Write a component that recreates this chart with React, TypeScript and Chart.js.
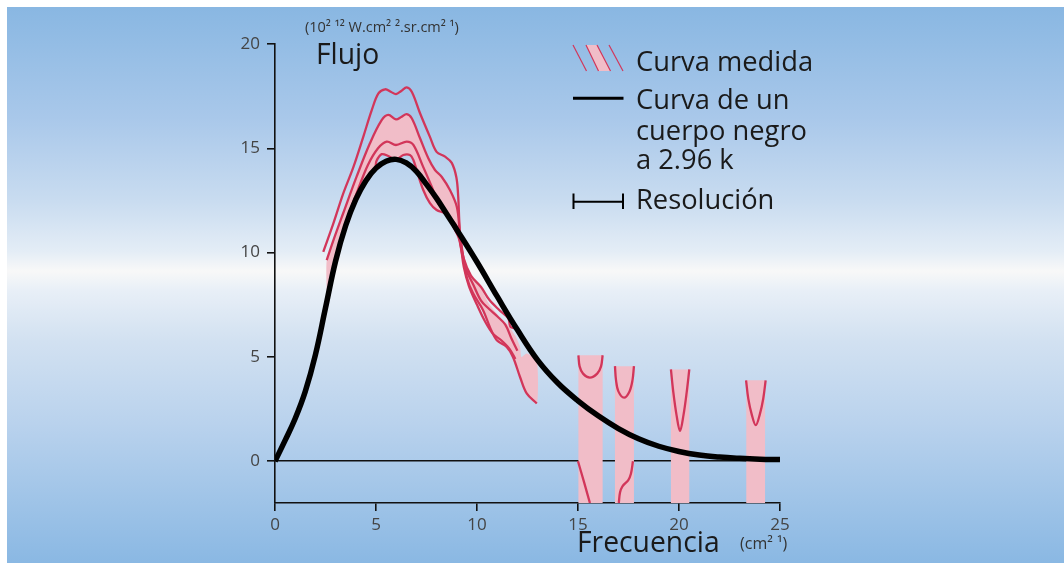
import React, { useEffect, useRef } from "react";
import { Chart, registerables } from "chart.js";

Chart.register(...registerables);

// ---------- data ----------
const xTicks = [0, 5, 10, 15, 20, 25];
const yTicks = [0, 5, 10, 15, 20];
const xRange = [0, 25];
const yRange = [-2, 20];

// black body curve (2.96 K)
const blackBody: number[][] = [
  [0, 0], [0.5, 1.0], [1, 2.05], [1.5, 3.35], [2, 5.1], [2.5, 7.35], [3, 9.6], [3.5, 11.3],
  [4, 12.55], [4.5, 13.45], [5, 14.05], [5.5, 14.38], [6, 14.47], [6.5, 14.3], [7, 13.9],
  [7.5, 13.27], [8, 12.6], [8.5, 11.85], [9, 11.1], [10, 9.55], [11, 7.9], [12, 6.3],
  [13, 4.85], [14, 3.75], [15, 2.9], [16, 2.18], [17, 1.57], [18, 1.08], [19, 0.72],
  [20, 0.47], [21, 0.3], [22, 0.2], [23, 0.14], [24, 0.1], [25, 0.08],
];

// measured curves (outlines)
const measuredOuter: number[][] = [
  [2.39, 10.04], [2.89, 11.4], [3.38, 12.84], [3.88, 14.1], [4.37, 15.55], [4.79, 16.83],
  [5.12, 17.63], [5.45, 17.83], [5.75, 17.7], [5.99, 17.6], [6.25, 17.75], [6.52, 17.92],
  [6.77, 17.71], [7.18, 16.68], [7.67, 15.55], [8.0, 14.83], [8.42, 14.6], [8.75, 14.3],
  [8.98, 13.6], [9.07, 12.68], [9.12, 11.56], [9.18, 10.6], [9.35, 9.7], [9.7, 8.9],
  [10.2, 8.35], [10.6, 7.75], [11.1, 7.25], [11.55, 6.85], [11.65, 6.45], [11.85, 6.38],
];
const measuredUpper: number[][] = [
  [2.56, 9.64], [2.95, 10.75], [3.38, 11.9], [4.04, 13.64], [4.7, 15.24], [5.28, 16.35],
  [5.61, 16.6], [5.99, 16.39], [6.25, 16.5], [6.52, 16.64], [6.77, 16.44], [7.18, 15.48],
  [7.59, 14.52], [7.92, 13.96], [8.25, 13.64], [8.66, 13.0], [9.0, 12.2], [9.15, 11.0],
  [9.3, 9.9], [9.5, 8.8], [9.8, 8.06], [10.3, 7.24], [10.64, 6.43], [10.98, 5.8],
  [11.47, 5.48], [11.78, 5.0], [12.13, 4.04], [12.46, 3.25], [12.96, 2.77],
];
const measuredMid: number[][] = [
  [3.75, 12.1], [4.1, 13.0], [4.6, 14.2], [5.1, 15.0], [5.53, 15.32], [5.99, 15.16],
  [6.52, 15.32], [6.85, 15.16], [7.34, 14.1], [7.76, 13.16], [8.09, 12.36], [8.5, 11.88],
  [8.83, 11.24], [9.1, 10.7], [9.25, 10.0], [9.45, 9.2], [9.8, 8.5], [10.2, 7.7],
  [10.6, 7.3], [11.0, 6.95], [11.4, 6.55], [11.7, 5.9], [12.0, 5.3],
];
const measuredLower: number[][] = [
  [4.98, 14.1], [5.03, 14.4], [5.28, 14.72], [5.61, 14.63], [5.99, 14.45], [6.35, 14.68],
  [6.68, 14.68], [6.85, 14.44], [7.01, 13.96], [7.34, 13.0], [7.67, 12.37], [8.0, 12.04],
  [8.42, 11.88], [8.75, 11.56], [9.0, 11.24], [9.2, 10.3], [9.35, 9.3], [9.6, 8.4],
  [10.0, 7.5], [10.4, 6.7], [10.8, 6.1], [11.2, 5.8], [11.6, 5.4], [11.9, 4.9],
];

// shaded (uncertainty) region of the measured curve, as a closed outline
const measuredBand: number[][] = [
  [2.56, 8.1], [2.56, 9.64], [2.95, 10.75], [3.38, 11.9], [4.04, 13.64], [4.7, 15.24],
  [5.28, 16.35], [5.61, 16.6], [5.99, 16.39], [6.25, 16.5], [6.52, 16.64], [6.77, 16.44],
  [7.18, 15.48], [7.59, 14.52], [7.92, 13.96], [8.25, 13.64], [8.66, 13.0], [9.0, 12.2],
  [9.15, 11.0], [9.3, 10.2], [9.6, 9.0], [10.15, 8.36], [10.56, 7.6], [11.14, 6.9],
  [11.55, 6.5], [11.9, 6.0], [12.13, 5.48], [12.2, 5.0], [12.46, 5.17], [12.96, 4.85],
  [12.97, 2.77], [12.46, 3.25], [12.13, 4.04], [11.78, 5.0], [11.47, 5.48], [10.98, 5.8],
  [10.64, 6.43], [10.3, 7.24], [9.8, 8.06], [9.5, 8.8], [9.3, 9.9], [9.2, 10.3],
  [9.0, 11.24], [8.75, 11.56], [8.42, 11.88], [8.0, 12.04], [7.67, 12.37], [7.34, 13.0],
  [7.01, 13.96], [6.85, 14.44], [6.68, 14.68], [6.35, 14.68], [5.99, 14.45], [5.61, 14.63],
  [5.28, 14.72], [5.03, 14.4], [4.98, 14.05], [4.5, 13.45], [4.0, 12.55], [3.5, 11.3],
  [3.0, 9.6], [2.56, 7.9],
];

// high-frequency measurements: shaded columns [x from, x to, top]
const highBands: number[][] = [
  [15.02, 16.22, 5.08],
  [16.83, 17.77, 4.56],
  [19.6, 20.51, 4.4],
  [23.33, 24.26, 3.88],
];
const highCurve1: number[][] = [
  [15.02, 5.08], [15.08, 4.55], [15.25, 4.2], [15.59, 4.01], [15.95, 4.2], [16.14, 4.55], [16.22, 5.08],
];
const highCurve2: number[][] = [
  [16.83, 4.56], [16.88, 3.9], [17.0, 3.35], [17.28, 3.05], [17.55, 3.35], [17.7, 3.9], [17.77, 4.56],
];
const highCurve3: number[][] = [
  [19.6, 4.4], [19.72, 3.3], [19.88, 2.2], [20.05, 1.45], [20.22, 2.2], [20.38, 3.3], [20.51, 4.4],
];
const highCurve4: number[][] = [
  [23.32, 3.88], [23.43, 3.0], [23.6, 2.25], [23.8, 1.73], [24.0, 2.25], [24.17, 3.0], [24.29, 3.88],
];
const lowCurve1: number[][] = [[15.0, 0], [15.3, -1.0], [15.59, -2.0]];
const lowCurve2: number[][] = [
  [17.72, 0], [17.62, -0.6], [17.49, -0.9], [17.2, -1.2], [17.08, -1.5], [17.02, -2.0],
];

// ---------- styling ----------
const RED = "#d2365a";
const PINK = "#f1bdc8";
const FONT = "'Open Sans', 'Noto Sans', sans-serif";
const TEXT = "#1a1a1a";

const W = 1057;
const H = 556;

const toPts = (a: number[][]) => a.map(([x, y]) => ({ x, y }));

const legendPlugin = {
  id: "legendSymbols",
  afterDraw(chart: any) {
    const ctx = chart.ctx;
    ctx.save();
    // hatched symbol (measured curve)
    ctx.strokeStyle = RED;
    ctx.lineWidth = 1.2;
    ctx.beginPath();
    ctx.moveTo(566, 38);
    ctx.lineTo(579.5, 64);
    ctx.stroke();
    ctx.beginPath();
    ctx.moveTo(602, 38);
    ctx.lineTo(616, 64);
    ctx.stroke();
    ctx.fillStyle = PINK;
    ctx.beginPath();
    ctx.moveTo(579, 38);
    ctx.lineTo(590, 38);
    ctx.lineTo(603.5, 64);
    ctx.lineTo(591.5, 64);
    ctx.closePath();
    ctx.fill();
    ctx.beginPath();
    ctx.moveTo(579, 38);
    ctx.lineTo(591.5, 64);
    ctx.moveTo(590, 38);
    ctx.lineTo(603.5, 64);
    ctx.stroke();
    // black body
    ctx.strokeStyle = "#000";
    ctx.lineWidth = 3;
    ctx.beginPath();
    ctx.moveTo(566, 91.3);
    ctx.lineTo(616.5, 91.3);
    ctx.stroke();
    // resolution
    ctx.lineWidth = 2;
    ctx.beginPath();
    ctx.moveTo(566, 194.7);
    ctx.lineTo(616.5, 194.7);
    ctx.moveTo(566.5, 186.5);
    ctx.lineTo(566.5, 202);
    ctx.moveTo(616, 186.5);
    ctx.lineTo(616, 202);
    ctx.stroke();
    ctx.restore();
  },
};

export default function App() {
  const ref = useRef<HTMLCanvasElement | null>(null);

  useEffect(() => {
    if (!ref.current) return;
    const lineDs = (data: number[][], extra: any = {}) => ({
      type: "line",
      data: toPts(data),
      borderColor: RED,
      borderWidth: 2.3,
      pointRadius: 0,
      fill: false,
      tension: 0.35,
      order: 1,
      ...extra,
    });
    const bandDs = (data: number[][], tension = 0) => ({
      type: "line",
      data: toPts(data),
      borderWidth: 0,
      borderColor: "rgba(0,0,0,0)",
      backgroundColor: PINK,
      pointRadius: 0,
      fill: "shape",
      tension,
      order: 3,
    });
    const yMin = yRange[0];
    const columns = highBands.map(([x0, x1, top]) =>
      bandDs([
        [x0, yMin],
        [x0, top],
        [x1, top],
        [x1, yMin],
        [x0, yMin],
      ])
    );

    const chart = new Chart(ref.current, {
      type: "line",
      data: {
        datasets: [
          {
            data: toPts(blackBody),
            borderColor: "#000",
            borderWidth: 5.5,
            pointRadius: 0,
            fill: false,
            tension: 0.4,
            borderCapStyle: "butt",
            order: 0,
          } as any,
          lineDs(measuredOuter),
          lineDs(measuredUpper),
          lineDs(measuredMid),
          lineDs(measuredLower),
          lineDs(highCurve1),
          lineDs(highCurve2),
          lineDs(highCurve3),
          lineDs(highCurve4),
          lineDs(lowCurve1),
          lineDs(lowCurve2),
          bandDs(measuredBand, 0.2),
          ...columns,
        ] as any,
      },
      options: {
        animation: false,
        responsive: false,
        events: [],
        layout: { padding: { left: 228, right: W - 773, top: 37, bottom: 30 } },
        plugins: {
          legend: { display: false },
          tooltip: { enabled: false },
          title: { display: false },
        },
        scales: {
          x: {
            type: "linear",
            min: xRange[0],
            max: xRange[1],
            afterFit: (s: any) => {
              s.height = 30;
            },
            afterBuildTicks: (s: any) => {
              s.ticks = xTicks.map((v) => ({ value: v }));
            },
            ticks: {
              padding: 4,
              color: "#444",
              font: { family: FONT, size: 17 },
              maxRotation: 0,
            },
            grid: {
              color: "rgba(0,0,0,0)",
              tickColor: "#111",
              tickLength: 8,
              lineWidth: 1.6,
            },
            border: { display: true, color: "#111", width: 1.6 },
          },
          y: {
            type: "linear",
            min: yRange[0],
            max: yRange[1],
            z: 1,
            afterFit: (s: any) => {
              s.width = 40;
            },
            afterBuildTicks: (s: any) => {
              s.ticks = yTicks.map((v) => ({ value: v }));
            },
            ticks: {
              padding: 7,
              color: "#444",
              font: { family: FONT, size: 17 },
            },
            grid: {
              color: (c: any) => (c.tick && c.tick.value === 0 ? "#111" : "rgba(0,0,0,0)"),
              tickColor: "#111",
              tickLength: 8,
              lineWidth: 1.6,
            },
            border: { display: true, color: "#111", width: 1.6 },
          },
        },
      } as any,
      plugins: [legendPlugin],
    });
    return () => chart.destroy();
  }, []);

  const txt = (left: number, top: number, size: number, content: string, color = TEXT) => (
    <div
      style={{
        position: "absolute",
        left,
        top,
        fontFamily: FONT,
        fontSize: size,
        lineHeight: 1,
        color,
        whiteSpace: "nowrap",
      }}
    >
      {content}
    </div>
  );

  return (
    <div
      style={{
        position: "fixed",
        left: 7,
        top: 7,
        width: W,
        height: H,
        background:
          "linear-gradient(to bottom, #89b7e2 0%, #a9c8ea 20%, #c9dcf0 35%, #e4edf6 44%, #f8f8f8 47.5%, #e8eff7 51%, #d2e1f1 60%, #b9d2ed 75%, #8ab8e3 100%)",
        overflow: "hidden",
      }}
    >
      <canvas ref={ref} width={W} height={H} style={{ position: "absolute", left: 0, top: 0 }} />
      {txt(298, 13, 14.5, "(10² ¹² W.cm² ².sr.cm² ¹)", "#333")}
      {txt(309, 31.5, 28.3, "Flujo")}
      {txt(629, 39.5, 27.3, "Curva medida")}
      {txt(629, 77.5, 27.3, "Curva de un")}
      {txt(629, 108.5, 27.3, "cuerpo negro")}
      {txt(629, 137.5, 27.3, "a 2.96 k")}
      {txt(629, 177.5, 27.3, "Resolución")}
      {txt(570, 520, 28.3, "Frecuencia")}
      {txt(733, 528, 16, "(cm² ¹)", "#333")}
    </div>
  );
}
